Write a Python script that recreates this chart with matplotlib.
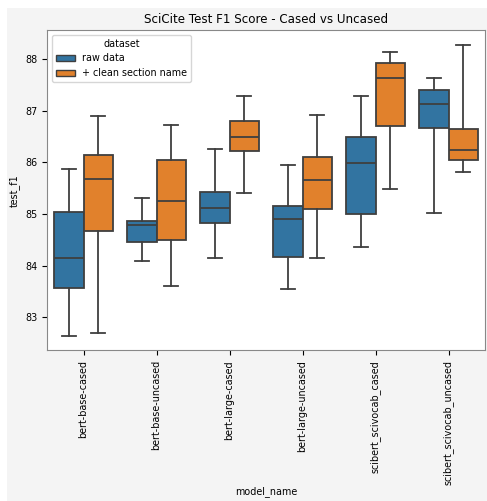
import matplotlib.pyplot as plt
from matplotlib.patches import Patch, Rectangle

models = ['bert-base-cased', 'bert-base-uncased', 'bert-large-cased',
          'bert-large-uncased', 'scibert_scivocab_cased', 'scibert_scivocab_uncased']
datasets = ['raw data', '+ clean section name']
colors = ['#3274a1', '#e1812c']

# five-number summaries per model: whislo, q1, median, q3, whishi
raw_whislo = [82.64, 84.09, 84.15, 83.55, 84.35, 85.02]
raw_q1 = [83.57, 84.45, 84.82, 84.17, 85.00, 86.66]
raw_med = [84.15, 84.78, 85.12, 84.90, 85.99, 87.12]
raw_q3 = [85.04, 84.87, 85.42, 85.15, 86.48, 87.39]
raw_whishi = [85.86, 85.30, 86.26, 85.94, 87.28, 87.63]

clean_whislo = [82.70, 83.60, 85.40, 84.14, 85.48, 85.82]
clean_q1 = [84.67, 84.49, 86.22, 85.10, 86.71, 86.04]
clean_med = [85.68, 85.24, 86.49, 85.66, 87.64, 86.23]
clean_q3 = [86.14, 86.05, 86.79, 86.10, 87.93, 86.65]
clean_whishi = [86.90, 86.73, 87.28, 86.92, 88.13, 88.28]


def make_stats(lo, q1, med, q3, hi):
    return [dict(whislo=a, q1=b, med=c, q3=d, whishi=e, fliers=[])
            for a, b, c, d, e in zip(lo, q1, med, q3, hi)]


series = [
    make_stats(raw_whislo, raw_q1, raw_med, raw_q3, raw_whishi),
    make_stats(clean_whislo, clean_q1, clean_med, clean_q3, clean_whishi),
]

fig = plt.figure(figsize=(4.87, 5.01), dpi=100, facecolor='white')
fig.patches.append(Rectangle((7 / 487, 0), 1, 1 - 8 / 501, transform=fig.transFigure,
                             facecolor='#f4f4f4', edgecolor='none', zorder=-10))
ax = fig.add_axes([0.0965, 0.301, 0.8995, 0.639])

edge = '#3f3f3f'
offsets = [-0.2, 0.2]
for stats, off, col in zip(series, offsets, colors):
    pos = [i + off for i in range(len(models))]
    ax.bxp(stats, positions=pos, widths=0.4, patch_artist=True, showfliers=False,
           boxprops=dict(facecolor=col, edgecolor=edge, linewidth=1.3),
           medianprops=dict(color=edge, linewidth=1.3),
           whiskerprops=dict(color=edge, linewidth=1.3),
           capprops=dict(color=edge, linewidth=1.3),
           capwidths=0.2)

fs = 6.9
ax.set_xlim(-0.5, len(models) - 0.5)
ax.set_ylim(82.36, 88.56)
ax.set_xticks(range(len(models)))
ax.set_xticklabels(models, rotation=90, fontsize=fs)
ax.set_yticks([83, 84, 85, 86, 87, 88])
ax.tick_params(axis='y', labelsize=fs)
for s in ax.spines.values():
    s.set_color('#888888')

ax.set_xlabel('model_name', fontsize=fs)
ax.xaxis.set_label_coords(0.5, -0.425)
ax.set_ylabel('test_f1', fontsize=fs)
ax.set_title('SciCite Test F1 Score - Cased vs Uncased', fontsize=8.6, pad=5)

handles = [Patch(facecolor=c, edgecolor=edge, label=l) for c, l in zip(colors, datasets)]
ax.legend(handles=handles, title='dataset', loc='upper left', fontsize=fs,
          title_fontsize=fs)

fig.savefig('out.png', dpi=100, facecolor=fig.get_facecolor())
